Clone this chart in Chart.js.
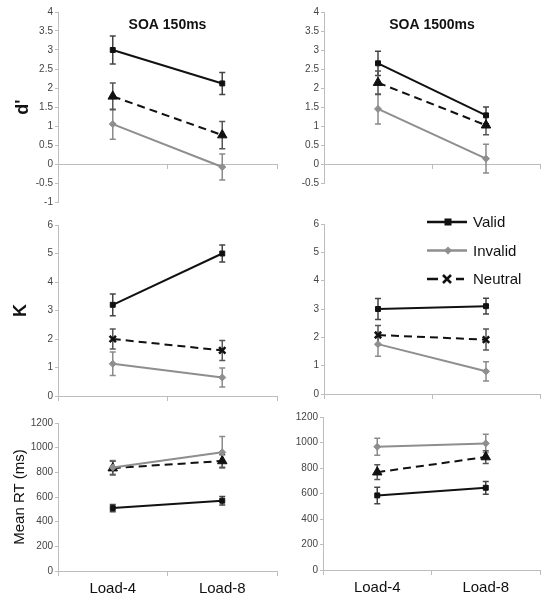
<!DOCTYPE html>
<html>
<head>
<meta charset="utf-8">
<title>d', K and RT by load</title>
<script src="https://cdn.jsdelivr.net/npm/chart.js@4/dist/chart.umd.min.js"></script>
<style>
  body { margin: 0; background: #fff; }
  #wrap { position: relative; width: 555px; height: 602px; overflow: hidden; }
  #wrap canvas { position: absolute; }
</style>
</head>
<body>
<div id="wrap">
  <canvas id="dL" width="285" height="210" style="left:0;top:0"></canvas>
  <canvas id="dR" width="275" height="195" style="left:280px;top:0"></canvas>
  <canvas id="kL" width="285" height="200" style="left:0;top:212px"></canvas>
  <canvas id="kR" width="275" height="200" style="left:280px;top:212px"></canvas>
  <canvas id="rL" width="285" height="192" style="left:0;top:410px"></canvas>
  <canvas id="rR" width="275" height="197" style="left:280px;top:405px"></canvas>
</div>
<script>
// categories
var loads = ['Load-4', 'Load-8'];

// d' - SOA 150ms
var d150Valid = [3.0, 2.12],   d150ValidErr = [0.37, 0.29];
var d150Invalid = [1.05, -0.08], d150InvalidErr = [0.4, 0.34];
var d150Neutral = [1.78, 0.76], d150NeutralErr = [0.35, 0.36];
// d' - SOA 1500ms
var d1500Valid = [2.65, 1.28],   d1500ValidErr = [0.32, 0.22];
var d1500Invalid = [1.45, 0.14], d1500InvalidErr = [0.4, 0.38];
var d1500Neutral = [2.14, 1.02], d1500NeutralErr = [0.31, 0.25];

// K - SOA 150ms
var k150Valid = [3.2, 5.0],    k150ValidErr = [0.38, 0.3];
var k150Invalid = [1.13, 0.65], k150InvalidErr = [0.41, 0.33];
var k150Neutral = [2.0, 1.6],   k150NeutralErr = [0.35, 0.35];
// K - SOA 1500ms
var k1500Valid = [3.0, 3.1],    k1500ValidErr = [0.37, 0.28];
var k1500Invalid = [1.76, 0.8], k1500InvalidErr = [0.43, 0.34];
var k1500Neutral = [2.08, 1.92], k1500NeutralErr = [0.34, 0.37];

// Mean RT (ms) - SOA 150ms
var rt150Valid = [510, 570],   rt150ValidErr = [30, 35];
var rt150Invalid = [840, 962], rt150InvalidErr = [55, 128];
var rt150Neutral = [834, 892], rt150NeutralErr = [55, 50];
// Mean RT (ms) - SOA 1500ms
var rt1500Valid = [585, 645],   rt1500ValidErr = [65, 50];
var rt1500Invalid = [967, 993], rt1500InvalidErr = [67, 72];
var rt1500Neutral = [767, 886], rt1500NeutralErr = [58, 50];

var seriesNames = ['Valid', 'Invalid', 'Neutral'];

var AXIS = '#bdbdbd';
var SANS = "'Liberation Sans', Arial, sans-serif";
var TICK_FONT = { family: SANS, size: 10 };

// error bars drawn from each dataset's "errors" array through the y scale
var errorBars = {
    id: 'errorBars',
    beforeDatasetsDraw: function (chart) {
        var ctx = chart.ctx, ys = chart.scales.y;
        chart.data.datasets.forEach(function (ds, i) {
            var meta = chart.getDatasetMeta(i);
            ctx.save();
            ctx.strokeStyle = ds.errColor;
            ctx.lineWidth = 1.5;
            meta.data.forEach(function (pt, j) {
                var top = ys.getPixelForValue(ds.data[j] + ds.errors[j]);
                var bot = ys.getPixelForValue(ds.data[j] - ds.errors[j]);
                ctx.beginPath();
                ctx.moveTo(pt.x, top); ctx.lineTo(pt.x, bot);
                ctx.moveTo(pt.x - 3, top); ctx.lineTo(pt.x + 3, top);
                ctx.moveTo(pt.x - 3, bot); ctx.lineTo(pt.x + 3, bot);
                ctx.stroke();
            });
            ctx.restore();
        });
    }
};

// "SOA ..." heading inside the plot area
var panelTitle = {
    id: 'panelTitle',
    afterDraw: function (chart, args, opts) {
        if (!opts.text) return;
        var a = chart.chartArea, ctx = chart.ctx;
        ctx.save();
        ctx.font = "bold 14px " + SANS;
        ctx.fillStyle = '#111';
        ctx.textAlign = 'center';
        ctx.textBaseline = 'middle';
        ctx.fillText(opts.text, (a.left + a.right) / 2, a.top + 13);
        ctx.restore();
    }
};

function drawMarker(ctx, style, x, y) {
    ctx.beginPath();
    if (style === 'rect') {
        ctx.fillRect(x - 3.5, y - 3.5, 7, 7);
    } else if (style === 'rectRot') {
        ctx.moveTo(x, y - 4); ctx.lineTo(x + 4, y); ctx.lineTo(x, y + 4); ctx.lineTo(x - 4, y);
        ctx.closePath(); ctx.fill();
    } else {
        ctx.lineWidth = 2.5;
        ctx.moveTo(x - 4, y - 4); ctx.lineTo(x + 4, y + 4);
        ctx.moveTo(x + 4, y - 4); ctx.lineTo(x - 4, y + 4);
        ctx.stroke();
    }
}

// legend in the K / 1500ms panel
var insetLegend = {
    id: 'insetLegend',
    afterDraw: function (chart, args, opts) {
        if (!opts.show) return;
        var a = chart.chartArea, ctx = chart.ctx;
        var x0 = a.right - 113, y0 = a.top - 2;
        chart.data.datasets.forEach(function (ds, i) {
            var y = y0 + i * 28.5;
            ctx.save();
            ctx.strokeStyle = ds.borderColor;
            ctx.fillStyle = ds.borderColor;
            ctx.lineWidth = 2.5;
            ctx.beginPath();
            if (ds.borderDash) {
                ctx.moveTo(x0, y); ctx.lineTo(x0 + 11, y);
                ctx.moveTo(x0 + 29, y); ctx.lineTo(x0 + 37, y);
            } else {
                ctx.moveTo(x0, y); ctx.lineTo(x0 + 40, y);
            }
            ctx.stroke();
            drawMarker(ctx, ds.pointStyle, x0 + (ds.borderDash ? 20 : 21), y);
            ctx.font = "15px " + SANS;
            ctx.fillStyle = '#111';
            ctx.textBaseline = 'middle';
            ctx.fillText(ds.label, x0 + 46, y + 1);
            ctx.restore();
        });
    }
};

function series(kind, data, errs, neutralStyle) {
    if (kind === 'Valid') {
        return { label: seriesNames[0], data: data, errors: errs, errColor: '#444',
            borderColor: '#111', backgroundColor: '#111', borderWidth: 2,
            pointStyle: 'rect', pointRadius: 3.5, pointBorderWidth: 1 };
    }
    if (kind === 'Invalid') {
        return { label: seriesNames[1], data: data, errors: errs, errColor: '#8a8a8a',
            borderColor: '#8e8e8e', backgroundColor: '#8e8e8e', borderWidth: 2,
            pointStyle: 'rectRot', pointRadius: 3.5, pointBorderWidth: 1 };
    }
    return { label: seriesNames[2], data: data, errors: errs, errColor: '#555',
        borderColor: '#111', backgroundColor: '#111', borderWidth: 2, borderDash: [8, 5],
        pointStyle: neutralStyle, pointRadius: neutralStyle === 'triangle' ? 5.5 : 4.5,
        pointBorderWidth: neutralStyle === 'triangle' ? 1 : 2.5 };
}

function panel(id, o) {
    new Chart(document.getElementById(id), {
        type: 'line',
        data: {
            labels: loads,
            datasets: [
                series('Valid', o.valid, o.validErr),
                series('Invalid', o.invalid, o.invalidErr),
                series('Neutral', o.neutral, o.neutralErr, o.neutralStyle)
            ]
        },
        options: {
            responsive: false,
            animation: false,
            devicePixelRatio: 1,
            layout: { padding: o.pad },
            plugins: {
                legend: { display: false },
                tooltip: { enabled: false },
                panelTitle: { text: o.title },
                insetLegend: { show: !!o.legend }
            },
            scales: {
                x: {
                    position: { y: 0 },
                    offset: true,
                    grid: { offset: true, drawOnChartArea: false, tickLength: 4, color: AXIS },
                    border: { color: AXIS },
                    ticks: { display: !!o.xLabels, color: '#111', padding: 5,
                        font: { family: SANS, size: 15 } }
                },
                y: {
                    min: o.min, max: o.max,
                    ticks: { stepSize: o.step, font: TICK_FONT, color: '#444', padding: 2,
                        callback: function (v) { return String(Math.round(v * 10) / 10); } },
                    grid: { drawOnChartArea: false, tickLength: 3, color: AXIS },
                    border: { color: AXIS },
                    title: o.yTitle ? { display: true, text: o.yTitle.text, color: '#111',
                        font: o.yTitle.font, padding: { top: o.yTitle.pad, bottom: 0 } } : { display: false },
                    afterFit: function (s) { s.width = o.yWidth; }
                }
            }
        },
        plugins: [errorBars, panelTitle, insetLegend]
    });
}

var boldTitle = { family: SANS, size: 18, weight: 'bold' };

panel('dL', { valid: d150Valid, validErr: d150ValidErr, invalid: d150Invalid, invalidErr: d150InvalidErr,
    neutral: d150Neutral, neutralErr: d150NeutralErr, neutralStyle: 'triangle',
    min: -1, max: 4, step: 0.5, yWidth: 58, pad: { left: 0, top: 12, right: 8, bottom: 8 },
    title: 'SOA 150ms', yTitle: { text: "d'", font: boldTitle, pad: 12 } });

panel('dR', { valid: d1500Valid, validErr: d1500ValidErr, invalid: d1500Invalid, invalidErr: d1500InvalidErr,
    neutral: d1500Neutral, neutralErr: d1500NeutralErr, neutralStyle: 'triangle',
    min: -0.5, max: 4, step: 0.5, yWidth: 44, pad: { left: 0, top: 12, right: 15, bottom: 12 },
    title: 'SOA 1500ms' });

panel('kL', { valid: k150Valid, validErr: k150ValidErr, invalid: k150Invalid, invalidErr: k150InvalidErr,
    neutral: k150Neutral, neutralErr: k150NeutralErr, neutralStyle: 'crossRot',
    min: 0, max: 6, step: 1, yWidth: 58, pad: { left: 0, top: 13, right: 8, bottom: 16 },
    yTitle: { text: 'K', font: boldTitle, pad: 10 } });

panel('kR', { valid: k1500Valid, validErr: k1500ValidErr, invalid: k1500Invalid, invalidErr: k1500InvalidErr,
    neutral: k1500Neutral, neutralErr: k1500NeutralErr, neutralStyle: 'crossRot',
    min: 0, max: 6, step: 1, yWidth: 44, pad: { left: 0, top: 12, right: 15, bottom: 18 },
    legend: true });

panel('rL', { valid: rt150Valid, validErr: rt150ValidErr, invalid: rt150Invalid, invalidErr: rt150InvalidErr,
    neutral: rt150Neutral, neutralErr: rt150NeutralErr, neutralStyle: 'triangle',
    min: 0, max: 1200, step: 200, yWidth: 58, pad: { left: 0, top: 13, right: 8, bottom: 31 },
    xLabels: true,
    yTitle: { text: 'Mean RT (ms)', font: { family: SANS, size: 15 }, pad: 11 } });

panel('rR', { valid: rt1500Valid, validErr: rt1500ValidErr, invalid: rt1500Invalid, invalidErr: rt1500InvalidErr,
    neutral: rt1500Neutral, neutralErr: rt1500NeutralErr, neutralStyle: 'triangle',
    min: 0, max: 1200, step: 200, yWidth: 43, pad: { left: 0, top: 12, right: 15, bottom: 32 },
    xLabels: true });
</script>
</body>
</html>
